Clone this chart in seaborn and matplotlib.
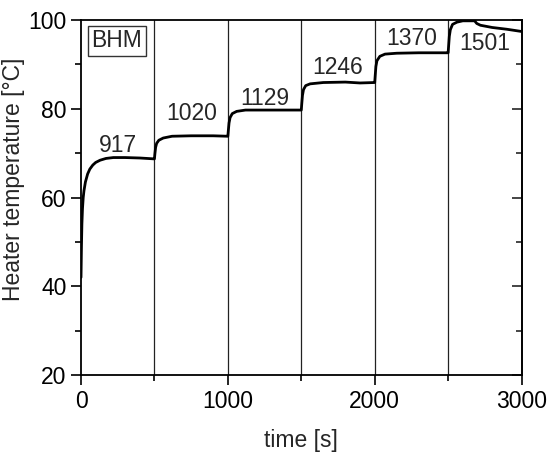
import pandas as pd
import matplotlib
matplotlib.use('Agg')
import matplotlib.pyplot as plt
import seaborn as sns
from matplotlib.ticker import MultipleLocator

# heater temperature trace
time_s = [0, 3, 6, 10, 15, 20, 30, 45, 60, 80, 100, 130, 170, 220, 300, 400, 499,
          500, 503, 508, 515, 530, 560, 620, 750, 900, 999,
          1000, 1003, 1008, 1015, 1030, 1060, 1120, 1300, 1499,
          1500, 1503, 1508, 1515, 1530, 1560, 1650, 1800, 1900, 1999,
          2000, 2003, 2008, 2015, 2035, 2070, 2150, 2300, 2499,
          2500, 2503, 2508, 2515, 2530, 2560, 2600, 2680, 2695, 2720, 2800, 2900, 3000]
temp_c = [42.0, 49.0, 54.0, 57.5, 60.0, 61.5, 63.5, 65.3, 66.4, 67.3, 67.9, 68.4, 68.8, 69.0, 69.0, 68.9, 68.7,
          68.7, 69.8, 71.3, 72.2, 72.9, 73.4, 73.8, 73.9, 73.9, 73.8,
          73.8, 75.0, 76.8, 78.0, 78.9, 79.4, 79.7, 79.7, 79.7,
          79.7, 81.0, 83.0, 84.3, 85.2, 85.6, 85.9, 86.0, 85.8, 85.9,
          85.9, 87.3, 89.5, 90.8, 91.8, 92.3, 92.5, 92.6, 92.6,
          92.6, 94.0, 96.3, 97.8, 99.0, 99.5, 99.8, 99.8, 99.2, 98.8, 98.3, 97.9, 97.4]

step_times = [500, 1000, 1500, 2000, 2500]
step_labels = ['917', '1020', '1129', '1246', '1370', '1501']
label_t = [252, 754, 1253, 1750, 2254, 2752]
label_y = [71.8, 79.0, 82.4, 89.2, 95.9, 94.8]

df = pd.DataFrame({'time': time_s, 'temp': temp_c})

sns.set_style('ticks')
plt.rcParams['font.family'] = ['Liberation Sans', 'DejaVu Sans']
fs = 16.5

fig = plt.figure(figsize=(5.5, 4.53), dpi=100)
ax = fig.add_axes([0.1473, 0.172, 0.801, 0.784])

for t in step_times:
    ax.axvline(t, color='#222222', lw=0.9, zorder=1)

sns.lineplot(data=df, x='time', y='temp', color='black', lw=2, ax=ax, zorder=3)

for lab, t, y in zip(step_labels, label_t, label_y):
    ax.text(t, y, lab, ha='center', va='center', fontsize=fs)

ax.text(245, 95.3, 'BHM', ha='center', va='center', fontsize=fs,
        bbox=dict(boxstyle='square,pad=0.15', fc='white', ec='#333333', lw=1))

ax.set_xlim(0, 3000)
ax.set_ylim(20, 100)
ax.xaxis.set_major_locator(MultipleLocator(1000))
ax.xaxis.set_minor_locator(MultipleLocator(500))
ax.yaxis.set_major_locator(MultipleLocator(20))
ax.yaxis.set_minor_locator(MultipleLocator(10))
ax.tick_params(which='both', direction='out', width=1.2, labelsize=fs, colors='black')
ax.tick_params(which='major', length=7)
ax.tick_params(which='minor', length=4)
for s in ax.spines.values():
    s.set_linewidth(1.3)
    s.set_color('black')

# right side ticks point inward, no labels
sec = ax.secondary_yaxis('right')
sec.yaxis.set_major_locator(MultipleLocator(20))
sec.yaxis.set_minor_locator(MultipleLocator(10))
sec.tick_params(which='both', direction='in', width=1.2, labelright=False)
sec.tick_params(which='major', length=7)
sec.tick_params(which='minor', length=4)
sec.spines['right'].set_linewidth(1.3)

ax.set_xlabel('time [s]', fontsize=fs, labelpad=12)
ax.set_ylabel('Heater temperature [°C]', fontsize=16.5)
ax.yaxis.set_label_coords(-0.128, 0.55)

fig.savefig('out.png', dpi=100)
